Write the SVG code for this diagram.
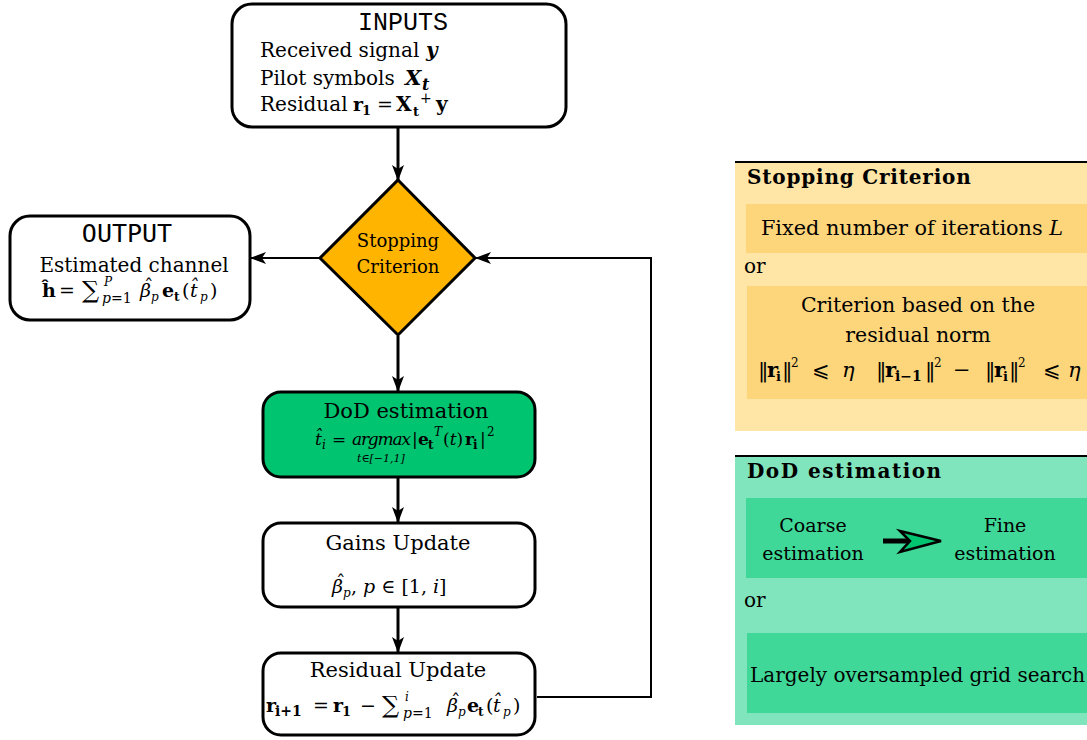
<svg xmlns="http://www.w3.org/2000/svg" width="1087" height="740" viewBox="0 0 1087 740">
<style>
.t{font-family:"DejaVu Serif",serif;fill:#000}
.mono{font-family:"Liberation Mono",monospace;fill:#000}
.smono{font-family:"DejaVu Sans Mono",monospace;fill:#000}
.box{stroke:#000;stroke-width:3}
.b{font-weight:bold}
.i{font-style:italic}
.bi{font-weight:bold;font-style:italic}
.s{font-size:12px}
.l{font-size:14px}
.conn{fill:none;stroke:#000;stroke-width:3}
.thin{fill:none;stroke:#000;stroke-width:2}
</style>
<defs>
<marker id="ah" markerUnits="userSpaceOnUse" viewBox="0 0 16 12" markerWidth="16" markerHeight="12" refX="15" refY="6" orient="auto">
<path d="M0,0 L16,6 L0,12 L4,6 z" fill="#000"/>
</marker>
</defs>
<rect width="1087" height="740" fill="#fff"/>

<g id="connectors">
<line class="conn" x1="398" y1="128" x2="398" y2="180" marker-end="url(#ah)"/>
<line class="conn" x1="398" y1="336" x2="398" y2="391" marker-end="url(#ah)"/>
<line class="conn" x1="398" y1="478" x2="398" y2="522" marker-end="url(#ah)"/>
<line class="conn" x1="398" y1="608" x2="398" y2="652" marker-end="url(#ah)"/>
<line class="thin" x1="320" y1="258" x2="251" y2="258" marker-end="url(#ah)"/>
<polyline class="thin" points="537,697 651,697 651,258 476,258" marker-end="url(#ah)"/>
</g>

<g id="inputs">
<rect class="box" x="232" y="4" width="334" height="123" rx="20" fill="#fff"/>
<text class="mono" x="403" y="30" font-size="25" text-anchor="middle">INPUTS</text>
<text class="t" x="260" y="57" font-size="20">Received signal <tspan class="bi" x="426">y</tspan></text>
<text class="t" x="260" y="85" font-size="20">Pilot symbols <tspan class="bi" x="405" font-size="21">X</tspan><tspan class="bi" font-size="16" x="422" y="90">t</tspan></text>
<text class="t" x="260" y="111" font-size="20">Residual</text>
<text class="t" font-size="19"><tspan class="b" x="353" y="111">r</tspan><tspan class="b" font-size="13" x="362" y="115">1</tspan><tspan x="377" y="111">=</tspan><tspan class="b" x="396" font-size="20">X</tspan><tspan class="b" font-size="13" x="413" y="116">t</tspan><tspan font-size="14" x="420" y="103">+</tspan><tspan class="b" x="436" y="111" font-size="20">y</tspan></text>
</g>

<g id="output">
<rect class="box" x="10" y="216" width="240" height="104" rx="20" fill="#fff"/>
<text class="smono" x="127" y="242" font-size="25" text-anchor="middle">OUTPUT</text>
<text class="t" x="134" y="272" font-size="20" text-anchor="middle">Estimated channel</text>
<text class="t" font-size="19"><tspan class="b" x="42" y="297">ĥ</tspan><tspan x="59">=</tspan><tspan x="82" y="298" font-size="24">∑</tspan><tspan class="i s" x="104" y="286">P</tspan><tspan class="i l" x="102" y="303">p</tspan><tspan class="l">=1</tspan><tspan class="i" x="140" y="297">β</tspan><tspan x="144" y="293">ˆ</tspan><tspan class="i s" x="151" y="301">p</tspan><tspan class="b" x="162" y="297">e</tspan><tspan class="b s" x="174" y="301">t</tspan><tspan x="182" y="297">(</tspan><tspan class="i" x="190">t̂</tspan><tspan class="i s" x="200" y="301">p</tspan><tspan x="210" y="297">)</tspan></text>
</g>

<g id="stopping">
<polygon class="box" points="398,180 475,258 398,335 320,258" fill="#FFB400"/>
<text class="t" x="398" y="247" font-size="18" text-anchor="middle">Stopping</text>
<text class="t" x="398" y="273" font-size="18" text-anchor="middle">Criterion</text>
</g>

<g id="dod">
<rect class="box" x="263" y="392" width="272" height="85" rx="18" fill="#00C46F"/>
<text class="t" x="406" y="418" font-size="21" text-anchor="middle">DoD estimation</text>
<text class="t" font-size="17"><tspan class="i" x="315" y="445">t̂</tspan><tspan class="i s" x="322" y="449">i</tspan><tspan x="332" y="445">=</tspan><tspan class="i" x="352" y="445" textLength="59">argmax</tspan><tspan x="412">|</tspan><tspan class="b" x="418">e</tspan><tspan class="b s" x="428" y="449">t</tspan><tspan class="i s" x="434" y="436">T</tspan><tspan x="443" y="445">(</tspan><tspan class="i">t</tspan><tspan>)</tspan><tspan class="b" x="465">r</tspan><tspan class="b s" x="473" y="449">i</tspan><tspan x="480" y="445">|</tspan><tspan class="s" x="487" y="436">2</tspan></text>
<text class="t i" x="357" y="462" font-size="11">t∈[−1,1]</text>
</g>

<g id="gains">
<rect class="box" x="263" y="523" width="272" height="84" rx="18" fill="#fff"/>
<text class="t" x="398" y="550" font-size="21" text-anchor="middle">Gains Update</text>
<text class="t" font-size="19"><tspan class="i" x="332" y="593">β</tspan><tspan x="336" y="589">ˆ</tspan><tspan class="i s" x="343" y="597">p</tspan><tspan x="351" y="593">, </tspan><tspan class="i">p</tspan> ∈ [1, <tspan class="i">i</tspan>]</text>
</g>

<g id="residual">
<rect class="box" x="263" y="653" width="272" height="82" rx="18" fill="#fff"/>
<text class="t" x="398" y="677" font-size="21" text-anchor="middle">Residual Update</text>
<text class="t" font-size="19"><tspan class="b" x="266" y="712">r</tspan><tspan class="b" font-size="14" x="275" y="716">i+1</tspan><tspan x="313" y="712">=</tspan><tspan class="b" x="333">r</tspan><tspan class="b" font-size="13" x="342" y="716">1</tspan><tspan x="360" y="712">−</tspan><tspan x="382" y="713" font-size="24">∑</tspan><tspan class="i s" x="405" y="701">i</tspan><tspan class="i l" x="403" y="718">p</tspan><tspan class="l">=1</tspan><tspan class="i" x="447" y="712">β</tspan><tspan x="451" y="708">ˆ</tspan><tspan class="i s" x="458" y="716">p</tspan><tspan class="b" x="467" y="712">e</tspan><tspan class="b s" x="478" y="716">t</tspan><tspan x="486" y="712">(</tspan><tspan class="i" x="493">t̂</tspan><tspan class="i s" x="503" y="716">p</tspan><tspan x="513" y="712">)</tspan></text>
</g>

<g id="panel-stopping">
<rect x="735" y="162" width="352" height="269" fill="#FFE5A6"/>
<line x1="735" y1="162" x2="1087" y2="162" stroke="#000" stroke-width="2"/>
<text class="t b" x="747" y="184" font-size="20" letter-spacing="0.8">Stopping Criterion</text>
<rect x="746" y="204" width="341" height="49" fill="#FDD67C"/>
<text class="t" x="912" y="235" font-size="20.8" text-anchor="middle">Fixed number of iterations <tspan class="i">L</tspan></text>
<text class="t" x="744" y="273" font-size="20">or</text>
<rect x="747" y="286" width="340" height="113" fill="#FDD67C"/>
<text class="t" x="918" y="312" font-size="20.5" text-anchor="middle">Criterion based on the</text>
<text class="t" x="918" y="342" font-size="20.5" text-anchor="middle">residual norm</text>
<text class="t" font-size="21"><tspan x="758" y="377">‖</tspan><tspan class="b" x="767">r</tspan><tspan class="b" font-size="13" x="776" y="381">i</tspan><tspan x="782" y="377">‖</tspan><tspan class="s" x="791" y="367">2</tspan><tspan x="812" y="377">⩽</tspan><tspan class="i" x="842">η</tspan><tspan x="876">‖</tspan><tspan class="b" x="885">r</tspan><tspan class="b" font-size="14" x="895" y="381">i−1</tspan><tspan x="925" y="377">‖</tspan><tspan class="s" x="934" y="367">2</tspan><tspan x="953" y="377">−</tspan><tspan x="985">‖</tspan><tspan class="b" x="994">r</tspan><tspan class="b" font-size="13" x="1003" y="381">i</tspan><tspan x="1009" y="377">‖</tspan><tspan class="s" x="1018" y="367">2</tspan><tspan x="1043" y="377">⩽</tspan><tspan class="i" x="1068">η</tspan></text>
</g>

<g id="panel-dod">
<rect x="735" y="456" width="352" height="269" fill="#80E5BC"/>
<line x1="735" y1="456" x2="1087" y2="456" stroke="#000" stroke-width="2"/>
<text class="t b" x="747" y="478" font-size="20" letter-spacing="1.5">DoD estimation</text>
<rect x="746" y="498" width="341" height="80" fill="#40D898"/>
<text class="t" x="813" y="532" font-size="19" text-anchor="middle">Coarse</text>
<text class="t" x="813" y="560" font-size="19" text-anchor="middle">estimation</text>
<text class="t" x="1005" y="532" font-size="19" text-anchor="middle">Fine</text>
<text class="t" x="1005" y="560" font-size="19" text-anchor="middle">estimation</text>
<line x1="883" y1="541" x2="912" y2="541" stroke="#000" stroke-width="5"/>
<path d="M900,531 L941,541 L900,552 L910,541 z" fill="#00C46F" stroke="#000" stroke-width="2.5"/>
<text class="t" x="744" y="607" font-size="20">or</text>
<rect x="747" y="633" width="340" height="80" fill="#40D898"/>
<text class="t" x="750" y="682" font-size="20">Largely oversampled grid search</text>
</g>
</svg>
